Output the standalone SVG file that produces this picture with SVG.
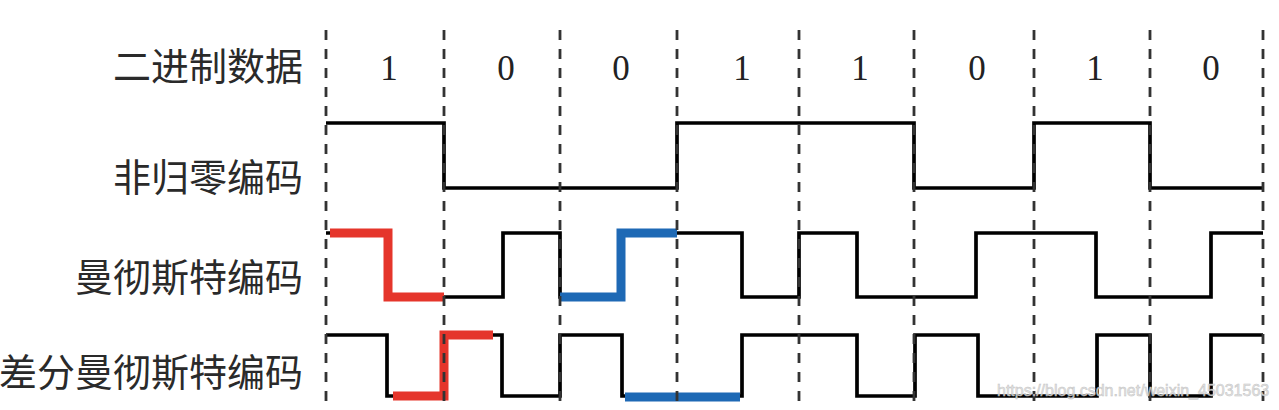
<svg xmlns="http://www.w3.org/2000/svg" width="1279" height="410" viewBox="0 0 1279 410">
<style>
.lbl{font-family:"Noto Sans CJK SC","Noto Sans",sans-serif;font-size:38px;fill:#2a2a2a;text-anchor:end}
.bit{font-family:"Liberation Serif","Times New Roman",serif;font-size:35px;fill:#222;text-anchor:middle}
.wave{fill:none;stroke:#000;stroke-width:3.7;stroke-linejoin:miter}
.hl{fill:none;stroke-width:9;stroke-linejoin:miter;stroke-linecap:butt}
.red{stroke:#e5352b}
.blue{stroke:#1e69b5}
.dash{stroke:#333;stroke-width:2.8;stroke-dasharray:10 9}
.wm{font-family:"Liberation Sans",Arial,sans-serif;font-size:16px;fill:#e2e2e2;stroke:#bdbdbd;stroke-width:0.5;opacity:0.9}
</style>
<rect width="1279" height="410" fill="#fff"/>
<g id="row-binary">
<text class="lbl" x="303" y="80">二进制数据</text>
<text class="bit" x="389" y="80">1</text>
<text class="bit" x="506" y="80">0</text>
<text class="bit" x="621" y="80">0</text>
<text class="bit" x="742" y="80">1</text>
<text class="bit" x="860" y="80">1</text>
<text class="bit" x="977" y="80">0</text>
<text class="bit" x="1095" y="80">1</text>
<text class="bit" x="1211" y="80">0</text>
</g>
<g id="row-nrz">
<text class="lbl" x="303" y="191">非归零编码</text>
<path class="wave" d="M326,123 H444 V188 H677 V123 H914 V188 H1034 V123 H1150 V188 H1263"/>
</g>
<g id="row-manchester">
<text class="lbl" x="303" y="291">曼彻斯特编码</text>
<path class="wave" d="M326,233 H388 V297 H503 V233 H560 V297 H621 V233 H742 V297 H799 V233 H857 V297 H976 V233 H1096 V297 H1211 V233 H1263"/>
<path class="hl red" d="M330,233 H388 V297 H444"/>
<path class="hl blue" d="M560,297 H621 V233 H677"/>
</g>
<g id="row-diff-manchester">
<text class="lbl" x="303" y="386">差分曼彻斯特编码</text>
<path class="wave" d="M326,335 H387 V396 H444 V335 H502 V396 H560 V335 H622 V396 H742 V335 H857 V396 H915 V335 H978 V396 H1097 V335 H1150 V396 H1211 V335 H1263"/>
<path class="hl red" d="M393,396 H444 V335 H493"/>
<path class="hl blue" d="M625,397 H740"/>
</g>
<g id="connectors">
<line class="dash" x1="326" y1="30" x2="326" y2="410"/>
<line class="dash" x1="444" y1="30" x2="444" y2="410"/>
<line class="dash" x1="560" y1="30" x2="560" y2="410"/>
<line class="dash" x1="677" y1="30" x2="677" y2="410"/>
<line class="dash" x1="799" y1="30" x2="799" y2="410"/>
<line class="dash" x1="914" y1="30" x2="914" y2="410"/>
<line class="dash" x1="1034" y1="30" x2="1034" y2="410"/>
<line class="dash" x1="1150" y1="30" x2="1150" y2="410"/>
<line class="dash" x1="1263" y1="30" x2="1263" y2="410"/>
</g>
<text class="wm" x="997" y="396">https://blog.csdn.net/weixin_45031563</text>
</svg>
